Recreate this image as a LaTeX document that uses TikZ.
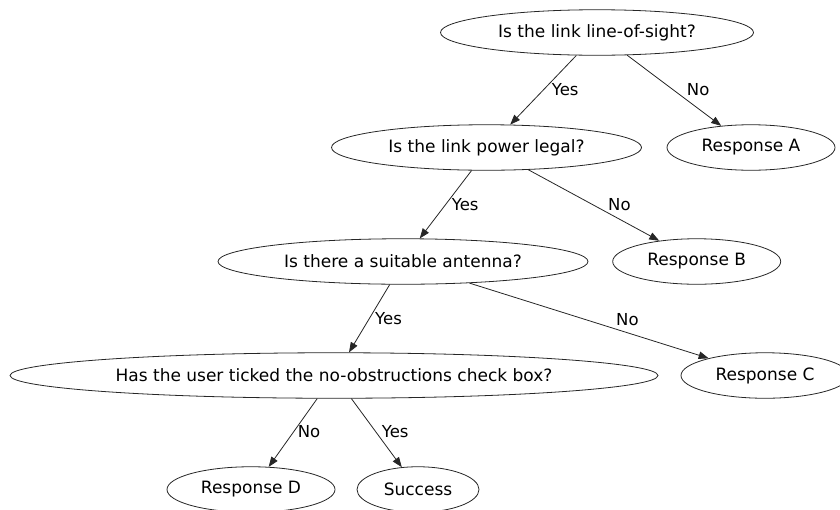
\documentclass[tikz,border=0pt]{standalone}
\usepackage{fontspec}
\setmainfont{DejaVu Sans}
\usetikzlibrary{arrows.meta,shapes.geometric}

\tikzset{
  q/.style={draw=black!85, line width=0.8pt, ellipse, inner sep=0pt,
            minimum height=45.5pt, font=\fontsize{17}{20}\selectfont},
  edge/.style={draw=black!85, line width=0.8pt,
               -{Triangle[length=10pt,width=7.5pt]}},
  lbl/.style={anchor=base west, inner sep=0pt, font=\fontsize{16.5}{19}\selectfont}
}

\begin{document}
\begin{tikzpicture}[x=1pt,y=1pt]
  \useasboundingbox (0,0) rectangle (840,-509);
  \clip (0,0) rectangle (840,-509);

  % decision nodes and outcomes
  \node[q, minimum width=313pt] (los)  at (597,-32.5)   {Is the link line-of-sight?};
  \node[q, minimum width=168pt] (ra)   at (751,-147.5)  {Response A};
  \node[q, minimum width=310pt] (pow)  at (486.5,-147.5){Is the link power legal?};
  \node[q, minimum width=370pt] (ant)  at (403,-261.5)  {Is there a suitable antenna?};
  \node[q, minimum width=168pt] (rb)   at (696.7,-261.5){Response B};
  \node[q, minimum width=648pt] (tick) at (334,-375.5)  {Has the user ticked the no-obstructions check box?};
  \node[q, minimum width=168pt] (rc)   at (765,-375.5)  {Response C};
  \node[q, minimum width=168pt] (rd)   at (251,-489.5)  {Response D};
  \node[q, minimum width=122pt] (ok)   at (418,-489.5)  {Success};

  % connectors
  \draw[edge] (los.228)  -- (pow.44);
  \draw[edge] (los.323)  -- (ra.144);
  \draw[edge] (pow.237.5)-- (ant.54);
  \draw[edge] (pow.332)  -- (rb.151);
  \draw[edge] (ant.240.7)-- (tick.57);
  \draw[edge] (ant.342.4)-- (rc.163.3);
  \draw[edge] (tick.234.6)-- (rd.52);
  \draw[edge] (tick.307) -- (ok.126.3);

  % connector labels
  \node[lbl] (y1) at (551.7,-95)  {Yes};
  \node[lbl] (n1) at (686.7,-95)  {No};
  \node[lbl] (y2) at (451.7,-210) {Yes};
  \node[lbl] (n2) at (608,-210)   {No};
  \node[lbl] (y3) at (375,-324)   {Yes};
  \node[lbl] (n3) at (616,-325)   {No};
  \node[lbl] (n4) at (297.7,-437.3) {No};
  \node[lbl] (y4) at (381.7,-437.3) {Yes};
\end{tikzpicture}
\end{document}
